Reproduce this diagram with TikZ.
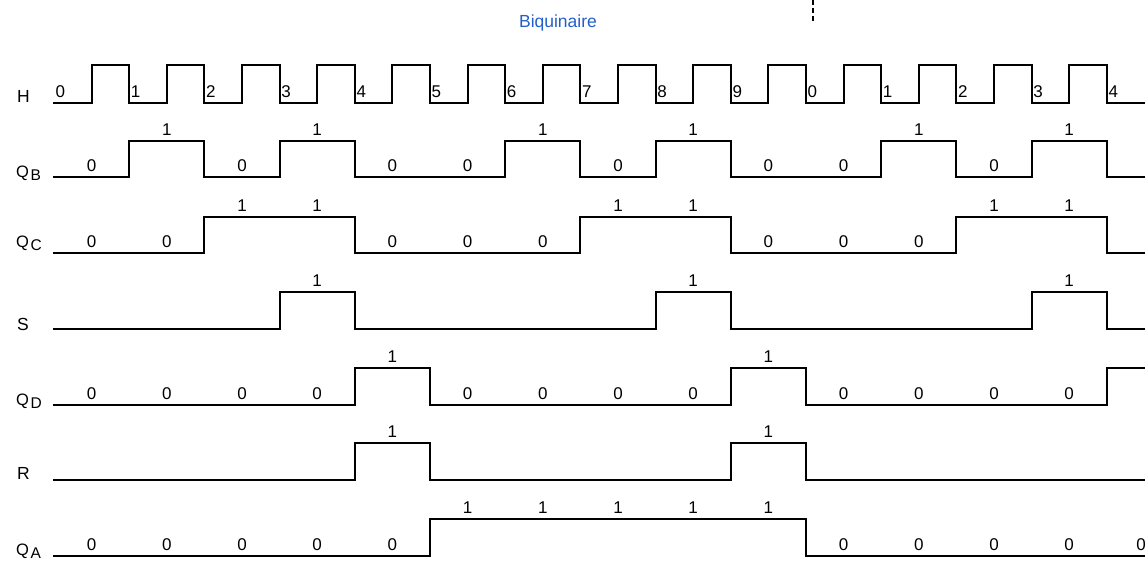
\documentclass[tikz,border=0pt]{standalone}
\usepackage{fontspec}
\setmainfont{Liberation Sans}
\definecolor{titleblue}{RGB}{35,95,200}
\newcommand\qlab[1]{\fontsize{16.5}{19}\selectfont Q\kern1.5pt\raisebox{-3.5pt}{\fontsize{15.5}{18}\selectfont #1}}
\begin{document}
\begin{tikzpicture}[x=1pt,y=-1pt,
  wave/.style={line width=2.1pt,line join=miter,line cap=rect},
  lab/.style={inner sep=0pt,font=\fontsize{17}{20}\selectfont,anchor=base},
  hlab/.style={inner sep=0pt,font=\fontsize{17}{20}\selectfont,anchor=base west},
  sig/.style={inner sep=0pt,font=\fontsize{17.5}{20}\selectfont,anchor=base west},
  ttl/.style={inner sep=0pt,font=\fontsize{17.5}{21}\selectfont,text=titleblue,anchor=base},
  guide/.style={line width=1.3pt,dash pattern=on 5pt off 3pt}]
\useasboundingbox (0,0) rectangle (1148,560);
\newcommand\sigwave[5]{%
  \draw[wave] (54,#2) \foreach \b [count=\k from 0] in {#4} {
    -- ({54+75.2*\k},{#2-\b*(#2-#3)}) -- ({min(54+75.2*(\k+1),1144)},{#2-\b*(#2-#3)}) };
  \foreach \l [count=\k from 0] in {#5} {%
    \if\l-\else
      \node[lab] (#1l\k) at ({91.6+75.2*\k},{#2-\l*(#2-#3)-6}) {\l};
    \fi}%
}
% title and guide
\node[ttl] (title) at (558,27) {Biquinaire};
\coordinate (g1) at (813,0);
\coordinate (g2) at (813,22);
\draw[guide] (g1) -- (g2);
% clock H
\node[sig] (nH) at (17,102) {H};
\draw[wave] (54,103) \foreach \k in {0,...,13} {
  -- ({54+75.2*\k+37.6},103) -- ({54+75.2*\k+37.6},65)
  -- ({54+75.2*(\k+1)},65) -- ({54+75.2*(\k+1)},103) } -- (1144,103);
\foreach \d [count=\k from 0] in {0,1,2,3,4,5,6,7,8,9,0,1,2,3,4} {
  \node[hlab] (h\k) at ({55.5+75.2*\k},97) {\d};
}
% QB
\node[sig] (nQB) at (16,177) {\qlab{B}};
\sigwave{qb}{177}{141}{0,1,0,1,0,0,1,0,1,0,0,1,0,1,0}{0,1,0,1,0,0,1,0,1,0,0,1,0,1,-}
% QC
\node[sig] (nQC) at (16,247) {\qlab{C}};
\sigwave{qc}{253}{217}{0,0,1,1,0,0,0,1,1,0,0,0,1,1,0}{0,0,1,1,0,0,0,1,1,0,0,0,1,1,-}
% S
\node[sig] (nS) at (17,330) {S};
\sigwave{s}{329}{292}{0,0,0,1,0,0,0,0,1,0,0,0,0,1,0}{-,-,-,1,-,-,-,-,1,-,-,-,-,1,-}
% QD
\node[sig] (nQD) at (16,405) {\qlab{D}};
\sigwave{qd}{405}{368}{0,0,0,0,1,0,0,0,0,1,0,0,0,0,1}{0,0,0,0,1,0,0,0,0,1,0,0,0,0,-}
% R
\node[sig] (nR) at (17,479) {R};
\sigwave{r}{480}{443}{0,0,0,0,1,0,0,0,0,1,0,0,0,0,0}{-,-,-,-,1,-,-,-,-,1,-,-,-,-,-}
% QA
\node[sig] (nQA) at (16,555) {\qlab{A}};
\sigwave{qa}{556}{519}{0,0,0,0,0,1,1,1,1,1,0,0,0,0,0}{0,0,0,0,0,1,1,1,1,1,0,0,0,0,-}
\node[lab] (qal14) at (1141,550) {0};
\end{tikzpicture}
\end{document}
